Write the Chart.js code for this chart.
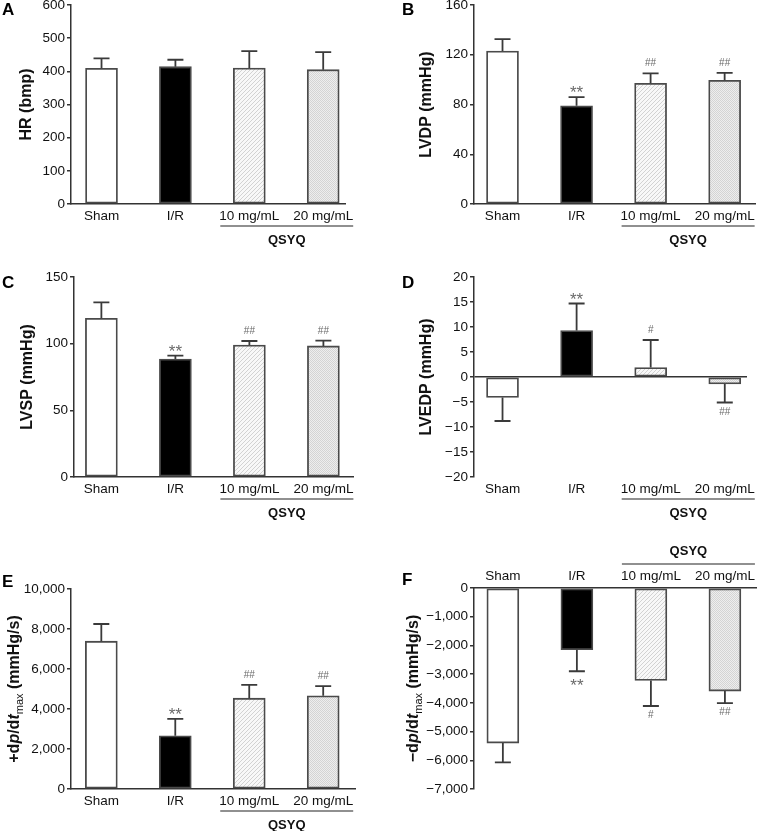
<!DOCTYPE html>
<html><head><meta charset="utf-8">
<script src="https://cdn.jsdelivr.net/npm/chart.js@4/dist/chart.umd.min.js"></script>
<style>
html,body{margin:0;padding:0;background:#fff;}
#wrap{position:relative;width:759px;height:831px;overflow:hidden;}
canvas{position:absolute;display:block;}
</style></head><body>
<div id="wrap">
<canvas id="cA" width="380" height="270" style="left:0;top:0"></canvas>
<canvas id="cB" width="379" height="270" style="left:380px;top:0"></canvas>
<canvas id="cC" width="380" height="280" style="left:0;top:270px"></canvas>
<canvas id="cD" width="379" height="280" style="left:380px;top:270px"></canvas>
<canvas id="cE" width="380" height="281" style="left:0;top:550px"></canvas>
<canvas id="cF" width="379" height="301" style="left:380px;top:530px"></canvas>
</div>
<script>
// ---------- data ----------
const categories = ['Sham', 'I/R', '10 mg/mL', '20 mg/mL'];
const groupLabel = 'QSYQ';

const hrMean = [409, 414, 410, 405];
const hrErr = [30, 21, 51, 53];
const hrMarks = ['', '', '', ''];

const lvdpMean = [123, 79, 97, 99.5];
const lvdpErr = [9.5, 7, 8, 6];
const lvdpMarks = ['', '**', '##', '##'];

const lvspMean = [119, 88.5, 99, 98.3];
const lvspErr = [12, 2.5, 3, 4];
const lvspMarks = ['', '**', '##', '##'];

const lvedpMean = [-4.1, 9.3, 1.9, -1.4];
const lvedpErr = [4.7, 5.4, 5.5, 3.7];
const lvedpMarks = ['', '**', '#', '##'];

const dpMaxMean = [7390, 2660, 4540, 4660];
const dpMaxErr = [860, 850, 670, 480];
const dpMaxMarks = ['', '**', '##', '##'];

const dpMinMean = [-5400, -2150, -3220, -3590];
const dpMinErr = [670, 750, 890, 420];
const dpMinMarks = ['', '**', '#', '##'];

// ---------- style ----------
const FONT = "'Liberation Sans', Arial, Helvetica, sans-serif";
Chart.defaults.font.family = FONT;
Chart.defaults.color = '#222';
const AX = '#333';

function makePatterns(ctx) {
  const h = document.createElement('canvas'); h.width = 4; h.height = 4;
  const g = h.getContext('2d');
  g.fillStyle = '#f8f8f8'; g.fillRect(0, 0, 4, 4);
  g.strokeStyle = '#d2d2d2'; g.lineWidth = 1;
  g.beginPath(); g.moveTo(-1, 5); g.lineTo(5, -1); g.moveTo(-1, 1); g.lineTo(1, -1); g.moveTo(3, 5); g.lineTo(5, 3); g.stroke();
  const s = document.createElement('canvas'); s.width = 2; s.height = 2;
  const q = s.getContext('2d');
  q.fillStyle = '#eeeeee'; q.fillRect(0, 0, 2, 2);
  q.fillStyle = '#d4d4d4'; q.fillRect(0, 0, 1, 1); q.fillRect(1, 1, 1, 1);
  return [ctx.createPattern(h, 'repeat'), ctx.createPattern(s, 'repeat')];
}

function fmt(v) {
  return Math.round(v).toLocaleString('en-US').replace('-', '\u2212');
}

const B16 = 'bold 16px ' + FONT;
const BI16 = 'italic bold 16px ' + FONT;
const panels = [
  {id: 'cA', letter: 'A', W: 380, H: 270, area: {l: 71, t: 5, r: 345, b: 204}, xr: [-0.413, 3.295], yr: [0, 600, 100],
   mean: hrMean, err: hrErr, marks: hrMarks, title: [{t: 'HR (bmp)', f: B16}], tx: 27, lp: [2, 15], xPos: 'bottom'},
  {id: 'cB', letter: 'B', W: 379, H: 270, area: {l: 94, t: 5, r: 375, b: 204}, xr: [-0.385, 3.41], yr: [0, 160, 40],
   mean: lvdpMean, err: lvdpErr, marks: lvdpMarks, title: [{t: 'LVDP (mmHg)', f: B16}], tx: 47, lp: [22, 15], xPos: 'bottom'},
  {id: 'cC', letter: 'C', W: 380, H: 280, area: {l: 74, t: 7, r: 353, b: 207}, xr: [-0.37, 3.40], yr: [0, 150, 50],
   mean: lvspMean, err: lvspErr, marks: lvspMarks, title: [{t: 'LVSP (mmHg)', f: B16}], tx: 28, lp: [2, 18], xPos: 'bottom'},
  {id: 'cD', letter: 'D', W: 379, H: 280, area: {l: 94, t: 7, r: 367, b: 207}, xr: [-0.385, 3.30], yr: [-20, 20, 5],
   mean: lvedpMean, err: lvedpErr, marks: lvedpMarks, title: [{t: 'LVEDP (mmHg)', f: B16}], tx: 47, lp: [22, 18], xPos: 'bottom', zero: true},
  {id: 'cE', letter: 'E', W: 380, H: 281, area: {l: 71, t: 39, r: 355, b: 239}, xr: [-0.41, 3.43], yr: [0, 10000, 2000],
   mean: dpMaxMean, err: dpMaxErr, marks: dpMaxMarks,
   title: [{t: '+d', f: B16}, {t: 'p', f: BI16}, {t: '/d', f: B16}, {t: 't', f: BI16}, {t: 'max', f: '11px ' + FONT, dy: 5}, {t: ' (mmHg/s)', f: B16}],
   tx: 15, lp: [2, 37], xPos: 'bottom'},
  {id: 'cF', letter: 'F', W: 379, H: 301, area: {l: 94, t: 58, r: 376, b: 259}, xr: [-0.39, 3.42], yr: [-7000, 0, 1000],
   mean: dpMinMean, err: dpMinErr, marks: dpMinMarks,
   title: [{t: '\u2212d', f: B16}, {t: 'p', f: BI16}, {t: '/d', f: B16}, {t: 't', f: BI16}, {t: 'max', f: '11px ' + FONT, dy: 5}, {t: ' (mmHg/s)', f: B16}],
   tx: 34, lp: [22, 55], xPos: 'top'}
];

function drawRich(ctx, segs, cx, cy) {
  ctx.save();
  ctx.translate(cx, cy); ctx.rotate(-Math.PI / 2);
  let total = 0;
  segs.forEach(s => { ctx.font = s.f; s.w = ctx.measureText(s.t).width; total += s.w; });
  let x = -total / 2;
  ctx.textBaseline = 'middle'; ctx.textAlign = 'left'; ctx.fillStyle = '#111';
  segs.forEach(s => { ctx.font = s.f; ctx.fillText(s.t, x, s.dy || 0); x += s.w; });
  ctx.restore();
}

const deco = {
  id: 'deco',
  afterDatasetsDraw(chart, args, o) {
    const p = o.panel, ctx = chart.ctx, ca = chart.chartArea;
    const meta = chart.getDatasetMeta(0);
    const ys = chart.scales.y, xs = chart.scales.x;
    ctx.save();
    // error bars
    ctx.strokeStyle = '#3a3a3a'; ctx.lineWidth = 1.8;
    meta.data.forEach((bar, i) => {
      const m = p.mean[i], e = p.err[i], s = m < 0 ? -1 : 1;
      const y0 = ys.getPixelForValue(m), y1 = ys.getPixelForValue(m + s * e);
      ctx.beginPath();
      ctx.moveTo(bar.x, y0); ctx.lineTo(bar.x, y1);
      ctx.moveTo(bar.x - 8, y1); ctx.lineTo(bar.x + 8, y1);
      ctx.stroke();
      const mk = p.marks[i];
      if (mk) {
        ctx.fillStyle = '#6a6a6a'; ctx.textAlign = 'center'; ctx.textBaseline = 'alphabetic';
        if (mk === '**') {
          ctx.font = '17px ' + FONT;
          ctx.fillText(mk, bar.x, s > 0 ? y1 + 1 : y1 + 20);
        } else {
          ctx.font = '10px ' + FONT;
          ctx.fillText(mk, bar.x, s > 0 ? y1 - 7 : y1 + 12);
        }
      }
    });
    // group bracket
    const gx0 = xs.getPixelForValue(2) - 29, gx1 = xs.getPixelForValue(3) + 30;
    let ly, ty;
    if (p.xPos === 'bottom') { ly = ca.bottom + 22; ty = ly + 14; } else { ly = ca.top - 24; ty = ly - 13; }
    ctx.strokeStyle = '#222'; ctx.lineWidth = 1.2;
    ctx.beginPath(); ctx.moveTo(gx0, ly); ctx.lineTo(gx1, ly); ctx.stroke();
    ctx.fillStyle = '#111'; ctx.font = 'bold 13px ' + FONT; ctx.textAlign = 'center'; ctx.textBaseline = 'middle';
    ctx.fillText(groupLabel, (gx0 + gx1) / 2, ty);
    // panel letter
    ctx.font = 'bold 17px ' + FONT; ctx.textAlign = 'left'; ctx.textBaseline = 'alphabetic'; ctx.fillStyle = '#000';
    ctx.fillText(p.letter, p.lp[0], p.lp[1]);
    ctx.restore();
    // y title
    drawRich(ctx, p.title, p.tx, (ca.top + ca.bottom) / 2);
  }
};

panels.forEach(p => {
  const canvas = document.getElementById(p.id);
  const ctx = canvas.getContext('2d');
  const [hatch, stip] = makePatterns(ctx);
  const fills = ['#ffffff', '#000000', hatch, stip];
  new Chart(ctx, {
    type: 'bar',
    data: {
      datasets: [{
        data: p.mean.map((v, i) => ({x: i, y: v})),
        backgroundColor: fills,
        borderColor: '#4a4a4a',
        borderWidth: 1.8,
        borderSkipped: false,
        barThickness: 32
      }]
    },
    options: {
      responsive: false,
      animation: false,
      events: [],
      layout: {padding: {left: 0, right: p.W - p.area.r, top: p.xPos === 'bottom' ? p.area.t : 0, bottom: p.xPos === 'bottom' ? 0 : p.H - p.area.b}},
      plugins: {legend: {display: false}, tooltip: {enabled: false}, deco: {panel: p}},
      scales: {
        x: {
          type: 'linear', position: p.xPos, min: p.xr[0], max: p.xr[1], offset: false,
          afterBuildTicks: s => { s.ticks = categories.map((c, i) => ({value: i})); },
          afterFit: s => { s.height = p.xPos === 'bottom' ? p.H - p.area.b : p.area.t; s.paddingLeft = 0; s.paddingRight = 0; },
          ticks: {autoSkip: false, maxRotation: 0, padding: 4, color: '#111', font: {size: 13.5}, callback: v => categories[v] ?? ''},
          grid: {display: false, drawTicks: false},
          border: {display: !p.zero, color: AX, width: 1.5}
        },
        y: {
          min: p.yr[0], max: p.yr[1],
          afterBuildTicks: s => { const t = []; for (let v = p.yr[0]; v <= p.yr[1]; v += p.yr[2]) t.push({value: v}); s.ticks = t; },
          afterFit: s => { s.width = p.area.l; s.paddingTop = 0; s.paddingBottom = 0; },
          ticks: {padding: 2, color: '#111', font: {size: 13.5}, callback: v => fmt(v)},
          grid: {
            drawOnChartArea: !!p.zero,
            color: c => (p.zero && c.tick && c.tick.value === 0) ? AX : 'rgba(0,0,0,0)',
            tickColor: AX, tickLength: 4, lineWidth: 1.5
          },
          border: {display: true, color: AX, width: 1.5}
        }
      }
    },
    plugins: [deco]
  });
});
</script>
</body></html>
